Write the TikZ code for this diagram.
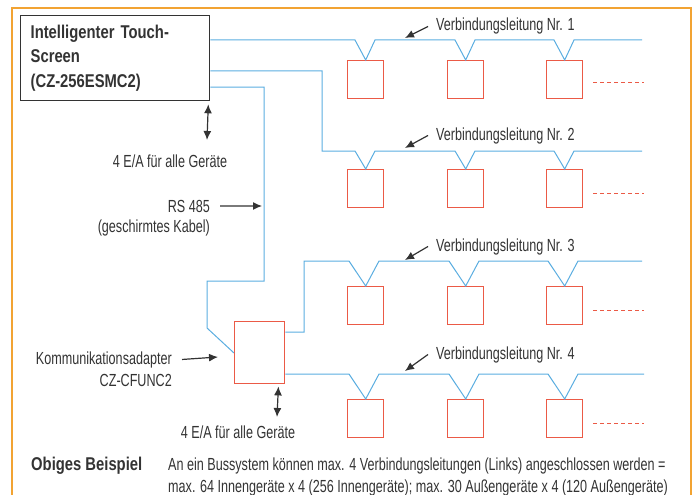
\documentclass[tikz,border=0pt]{standalone}
\usepackage{fontspec}
\setmainfont{Liberation Sans}[FakeStretch=0.72, BoldFeatures={FakeStretch=0.8}]
\usetikzlibrary{arrows.meta, positioning}

\definecolor{busblue}{HTML}{5AADE0}
\definecolor{devred}{HTML}{EB5A46}
\definecolor{frameorange}{HTML}{F2A332}
\definecolor{txt}{HTML}{333333}

\begin{document}
\begin{tikzpicture}[x=1pt, y=-1pt,
    every node/.style={text=txt, inner sep=1pt, font=\fontsize{17.5}{22}\selectfont},
    dev/.style={draw=devred, line width=1.4pt, minimum width=36pt, minimum height=38pt, inner sep=0pt, anchor=north west},
    bus/.style={draw=busblue, line width=1pt},
    lbl/.style={anchor=base west},
    pfeil/.style={-{Latex[length=9pt,width=8pt]}, line width=1.2pt, draw=txt},
    dpfeil/.style={{Latex[length=9pt,width=8pt]}-{Latex[length=9pt,width=8pt]}, line width=1.2pt, draw=txt},
    weiter/.style={draw=devred, line width=1pt, dash pattern=on 4pt off 3pt}]
    \useasboundingbox (0, 0) rectangle (696, 495);
    \draw[frameorange, line width=1.5pt] (12, 500) -- (12, 8) -- (691, 8) -- (691, 500);

    % Touch-Screen und Adapter
    \node[draw=txt, line width=1.3pt, anchor=north west, minimum width=189pt, minimum height=85pt, text width=169pt, inner xsep=10pt, align=left, font=\bfseries\fontsize{18.5}{24.5}\selectfont] (ts) at (20, 15) {Intelligenter Touch-\\Screen\\(CZ-256ESMC2)};
    \node[draw=devred, line width=1.4pt, anchor=north west, minimum width=50pt, minimum height=62pt, inner sep=0pt] (ad) at (234, 321) {};

    % Geraete
    \node[dev] (d11) at (347, 60) {};
    \node[dev] (d12) at (447, 60) {};
    \node[dev] (d13) at (546, 60) {};
    \node[dev] (d21) at (347, 169) {};
    \node[dev] (d22) at (447, 169) {};
    \node[dev] (d23) at (546, 169) {};
    \node[dev] (d31) at (347, 286) {};
    \node[dev] (d32) at (447, 286) {};
    \node[dev] (d33) at (546, 286) {};
    \node[dev] (d41) at (347, 399) {};
    \node[dev] (d42) at (447, 399) {};
    \node[dev] (d43) at (546, 399) {};

    \draw[weiter] ([xshift=10pt, yshift=-3pt]d13.east) -- ++(51, 0);
    \draw[weiter] ([xshift=10pt, yshift=-5pt]d23.east) -- ++(51, 0);
    \draw[weiter] ([xshift=10pt, yshift=-5pt]d33.east) -- ++(51, 0);
    \draw[weiter] ([xshift=10pt, yshift=-5pt]d43.east) -- ++(51, 0);

    % Verbindungsleitungen
    \draw[bus] (ts.east |- 0, 40) -- (355, 40) -- (d11.north) -- (375, 40) -- (455, 40) -- (d12.north) -- (475, 40) -- (554, 40) -- (d13.north) -- (574, 40) -- (642, 40);
    \draw[bus] (ts.east |- 0, 71) -- (322, 71) -- (322, 151) -- (355, 151) -- (d21.north) -- (375, 151) -- (455, 151) -- (d22.north) -- (475, 151) -- (554, 151) -- (d23.north) -- (574, 151) -- (642, 151);
    \draw[bus] (ts.east |- 0, 87) -- (264, 87) -- (264, 281) -- (207, 281) -- (207, 328) -- (ad.west |- 0, 353);
    \draw[bus] (ad.east |- 0, 332) -- (304, 332) -- (304, 261) -- (349, 261) -- (d31.north) -- (379, 261) -- (449, 261) -- (d32.north) -- (479, 261) -- (548, 261) -- (d33.north) -- (578, 261) -- (642, 261);
    \draw[bus] (ad.east |- 0, 374) -- (349, 374) -- (d41.north) -- (379, 374) -- (449, 374) -- (d42.north) -- (479, 374) -- (548, 374) -- (d43.north) -- (578, 374) -- (644, 374);

    % Beschriftungen
    \node[lbl] (v1) at (435, 31) {Verbindungsleitung Nr. 1};
    \node[lbl] (v2) at (435, 140) {Verbindungsleitung Nr. 2};
    \node[lbl] (v3) at (435, 251) {Verbindungsleitung Nr. 3};
    \node[lbl] (v4) at (435, 359) {Verbindungsleitung Nr. 4};
    \coordinate (v1end) at (405, 38);
    \coordinate (v2end) at (405, 148);
    \coordinate (v3end) at (405, 260);
    \coordinate (v4end) at (405, 371);
    \draw[pfeil] ([xshift=-7pt]v1.west) -- (v1end);
    \draw[pfeil] ([xshift=-7pt]v2.west) -- (v2end);
    \draw[pfeil] ([xshift=-7pt]v3.west) -- (v3end);
    \draw[pfeil] ([xshift=-7pt]v4.west) -- (v4end);

    \node[anchor=base] (ea1) at (170, 167) {4 E/A für alle Geräte};
    \coordinate (ea1top) at (207, 140);
    \draw[dpfeil] ([xshift=-2pt, yshift=-3pt]ts.south east) -- (ea1top);

    \node[anchor=base east] (rs) at (211, 212) {RS 485};
    \node[anchor=base east] (kabel) at (211, 232) {(geschirmtes Kabel)};
    \coordinate (rsend) at (262, 206);
    \draw[pfeil] ([xshift=9pt]rs.east) -- (rsend);

    \node[anchor=base east] (ka) at (173, 364) {Kommunikationsadapter};
    \node[anchor=base east] (cf) at (173, 386) {CZ-CFUNC2};
    \coordinate (kaend) at (218, 357);
    \draw[pfeil] ([xshift=9pt]ka.east) -- (kaend);

    \node[anchor=base] (ea2) at (238, 438) {4 E/A für alle Geräte};
    \coordinate (ea2top) at (277, 417);
    \draw[dpfeil] ([xshift=-7pt, yshift=-2pt]ad.south east) -- (ea2top);

    \node[lbl, font=\bfseries\fontsize{18.5}{22}\selectfont] (ob) at (30, 470) {Obiges Beispiel};
    \node[lbl, align=left] (bsp) at (167, 492) {An ein Bussystem können max. 4 Verbindungsleitungen (Links) angeschlossen werden =\\max. 64 Innengeräte x 4 (256 Innengeräte); max. 30 Außengeräte x 4 (120 Außengeräte)};
\end{tikzpicture}
\end{document}
